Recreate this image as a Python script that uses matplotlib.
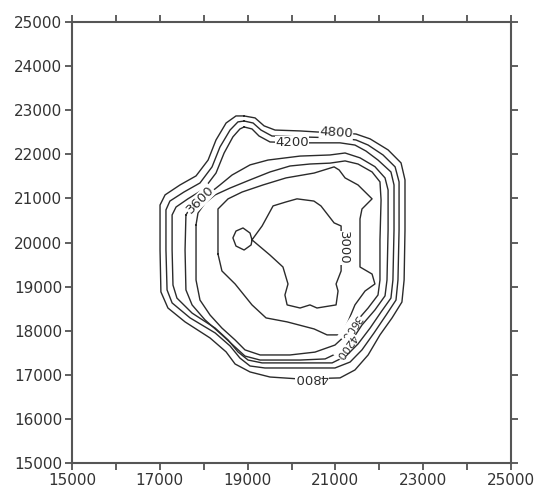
import matplotlib
matplotlib.use("Agg")
import matplotlib.pyplot as plt

# contour lines, one closed outline per level (x, y in map units)
c4800_x = [18920, 19170, 19375, 19625, 20195, 20605, 21105, 21470, 21790, 22200, 22495, 22585, 22585, 22565, 22515,
           22290, 22015, 21745, 21445, 21105, 20195, 19510, 19055, 18715, 18510, 18145, 17575, 17185, 17025, 17005,
           17005, 17120, 17460, 17825, 18100, 18280, 18510, 18735]
c4800_y = [22870, 22825, 22645, 22550, 22530, 22505, 22485, 22460, 22350, 22100, 21805, 21420, 20285, 19150, 18650,
           18290, 17905, 17450, 17110, 16930, 16905, 16950, 17065, 17245, 17520, 17835, 18200, 18515, 18880, 19830,
           20850, 21080, 21305, 21510, 21870, 22325, 22710, 22870]

c4500_x = [18920, 19125, 19305, 19555, 20195, 21105, 21470, 21745, 22085, 22360, 22450, 22450, 22425, 22380, 22155,
           21880, 21605, 21335, 20990, 20195, 19395, 19055, 18825, 18600, 18260, 17690, 17280, 17165, 17140, 17140,
           17230, 17550, 17915, 18190, 18370, 18600, 18780]
c4500_y = [22755, 22710, 22550, 22415, 22395, 22370, 22325, 22210, 21985, 21715, 21375, 20285, 19150, 18695, 18355,
           17950, 17565, 17290, 17155, 17155, 17155, 17200, 17380, 17655, 17950, 18290, 18630, 18925, 19830, 20740,
           20940, 21145, 21350, 21715, 22165, 22550, 22735]

c4200_x = [18920, 19100, 19260, 19510, 20195, 21105, 21445, 21695, 21970, 22265, 22335, 22335, 22310, 22265, 22040,
           21790, 21515, 21240, 20925, 20195, 19330, 19010, 18780, 18555, 18260, 17735, 17390, 17300, 17280, 17280,
           17370, 17640, 18005, 18280, 18465, 18665, 18825]
c4200_y = [22620, 22575, 22415, 22280, 22260, 22260, 22210, 22075, 21870, 21600, 21305, 20285, 19150, 18740, 18425,
           18060, 17700, 17425, 17270, 17270, 17270, 17335, 17520, 17790, 18060, 18400, 18740, 19035, 19830, 20625,
           20805, 20990, 21215, 21575, 22030, 22395, 22575]

c3900_x = [17595, 17735, 18030, 18370, 18645, 19055, 19465, 20195, 20875, 21220, 21560, 21900, 22130, 22200, 22200,
           22175, 22130, 21900, 21605, 21380, 21105, 20765, 20195, 19285, 18940, 18715, 18415, 18030, 17735, 17595,
           17575]
c3900_y = [20625, 20850, 21035, 21305, 21530, 21760, 21870, 21960, 21985, 22030, 21920, 21720, 21465, 21190, 20285,
           19150, 18790, 18470, 18130, 17790, 17520, 17360, 17335, 17335, 17425, 17630, 17905, 18245, 18585, 18925,
           19830]

c3600_x = [17825, 17870, 18030, 18260, 18600, 19055, 19510, 19965, 20420, 20875, 21220, 21515, 21835, 22015, 22040,
           22015, 22015, 21970, 21745, 21470, 21240, 20990, 20535, 19965, 19285, 18940, 18715, 18415, 18145, 17915,
           17825, 17825]
c3600_y = [20400, 20670, 20895, 21080, 21235, 21420, 21600, 21735, 21780, 21800, 21850, 21780, 21600, 21375, 20965,
           20060, 19150, 18810, 18515, 18200, 17905, 17675, 17515, 17450, 17450, 17565, 17790, 18060, 18355, 18695,
           19150, 19830]

c3300_x = [18325, 18325, 18555, 18875, 19350, 19875, 20515, 20970, 21085, 21220, 21515, 21835, 21605, 21560, 21560,
           21835, 21900, 21675, 21445, 21285, 21130, 20810, 20515, 19900, 19420, 19100, 18715, 18415]
c3300_y = [19740, 20760, 20990, 21145, 21305, 21465, 21575, 21715, 21645, 21465, 21305, 20990, 20760, 20535, 19445,
           19285, 19060, 18900, 18585, 18200, 17905, 17905, 18040, 18200, 18290, 18585, 19060, 19355]

c3000_x = [19100, 19330, 19580, 19875, 20125, 20510, 20670, 20970, 21130, 21130, 21015, 21060, 21015, 20580, 20420,
           20195, 19900, 19850, 19920, 19805, 19510, 19100, 19055, 18895, 18735, 18665, 18735, 18920, 19080]
c3000_y = [20060, 20375, 20830, 20920, 20990, 20940, 20830, 20445, 20375, 19355, 19060, 18900, 18585, 18515, 18585,
           18515, 18585, 18810, 19060, 19445, 19715, 20060, 20215, 20330, 20260, 20105, 19920, 19830, 19945]

contours = [(c4800_x, c4800_y), (c4500_x, c4500_y), (c4200_x, c4200_y), (c3900_x, c3900_y),
            (c3600_x, c3600_y), (c3300_x, c3300_y), (c3000_x, c3000_y)]

# inline labels: text, x, y, angle
label_text = ["4800", "4200", "3600", "3000", "3600", "4200", "4800"]
label_x = [21015, 20010, 17915, 21190, 21335, 21240, 20465]
label_y = [22485, 22260, 20965, 19880, 18085, 17655, 16930]
label_rot = [-4, 0, 45, -90, 235, 235, 180]
label_size = [9.5, 9.5, 9.5, 9.5, 8, 8, 9.5]

fig = plt.figure(figsize=(5.37, 4.88), dpi=100)
ax = fig.add_axes([0.1341, 0.0512, 0.8175, 0.9037])

for xs, ys in contours:
    ax.plot(xs + xs[:1], ys + ys[:1], color="#2b2b2b", lw=1.0, solid_joinstyle="round")

for t, x, y, r, fs in zip(label_text, label_x, label_y, label_rot, label_size):
    ax.text(x, y, t, rotation=r, ha="center", va="center", rotation_mode="anchor",
            fontsize=fs, color="#2b2b2b",
            bbox=dict(facecolor="white", edgecolor="none", pad=0.3))

ax.set_xlim(15000, 25000)
ax.set_ylim(15000, 25000)
ax.set_xticks(range(15000, 25001, 1000))
ax.set_xticklabels([str(v) if (v - 15000) % 2000 == 0 else "" for v in range(15000, 25001, 1000)])
ax.set_yticks(range(15000, 25001, 1000))
ax.tick_params(direction="out", length=5, width=1.2, color="#444444", labelsize=11,
               labelcolor="#333333", pad=2)
ax.tick_params(top=True, right=True, labeltop=False, labelright=False)
ax.tick_params(axis="x", which="major", top=True, length=5)
for s in ax.spines.values():
    s.set_color("#555555")
    s.set_linewidth(1.5)

fig.savefig("out.png", dpi=100)
